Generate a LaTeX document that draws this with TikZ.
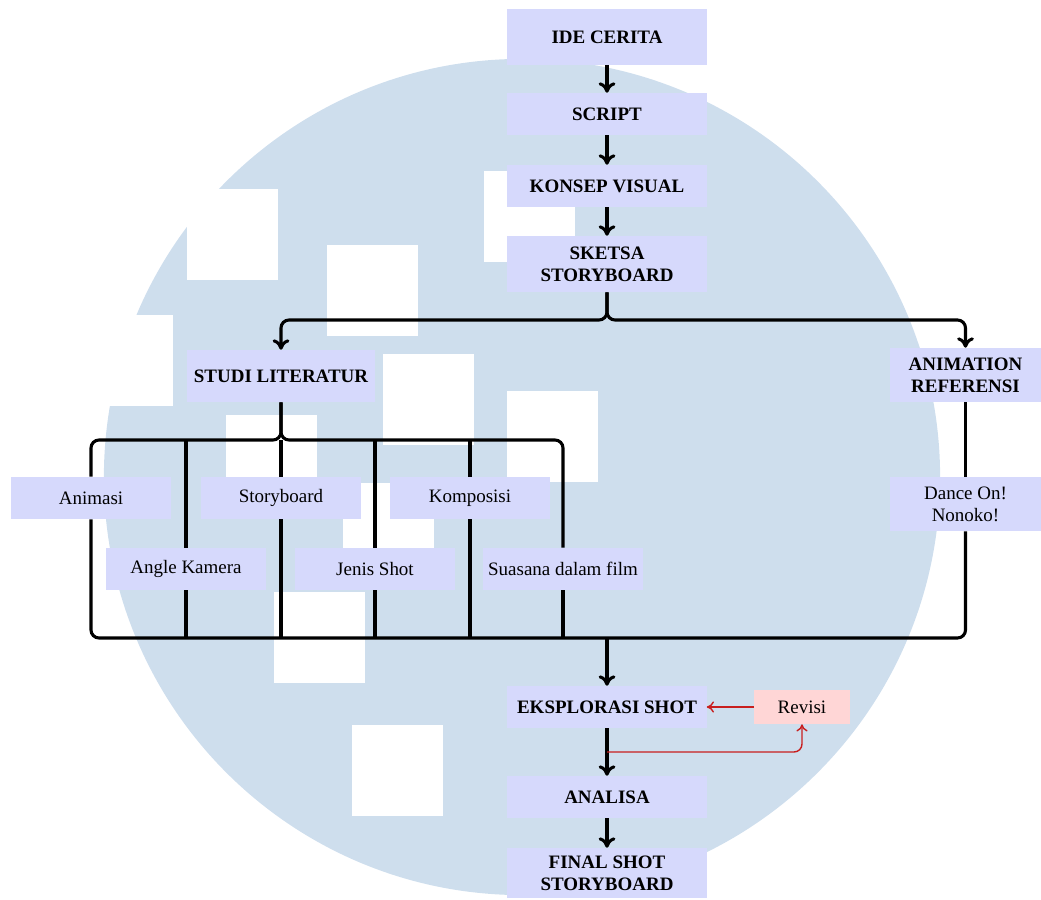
\documentclass[tikz,border=0pt]{standalone}
\usepackage{fontspec}
\setmainfont{Liberation Serif}
\usetikzlibrary{arrows.meta}

\definecolor{boxblue}{RGB}{214,217,252}
\definecolor{boxpink}{RGB}{255,214,214}
\definecolor{wmblue}{RGB}{206,222,237}
\definecolor{revred}{RGB}{200,30,30}

\begin{document}
\begin{tikzpicture}
  [x=0.025cm,y=-0.025cm,
   every node/.style={fill=boxblue,inner sep=0pt,align=center,font=\fontsize{13.5}{15.6}\selectfont},
   stage/.style={minimum width=4.975cm,minimum height=1.05cm,font=\fontsize{13.5}{15.6}\selectfont\bfseries},
   topic/.style={minimum width=4cm,minimum height=1.05cm},
   flow/.style={line width=2.2pt,-{To[length=2.6mm,width=4.2mm]}},
   link/.style={line width=2.2pt,rounded corners=0.2cm},
   back/.style={line width=1pt,draw=revred,-{To[length=1.8mm,width=2.8mm]}}]
  \useasboundingbox (0,0) rectangle (1041,900);
  % watermark
  \fill[wmblue] (522,477) circle[radius=10.45cm];
  \foreach \x/\y in {187/189,327/245,484/171,82/315,383/354,226/415,507/391,343/483,274/592,352/725}
    \fill[white] (\x,\y) rectangle ++(91,91);

  \node[stage,minimum height=1.375cm] (nide) at (607,37) {IDE CERITA};
  \node[stage] (nscript) at (607,114) {SCRIPT};
  \node[stage] (nkonsep) at (607,186) {KONSEP VISUAL};
  \node[stage,minimum height=1.4cm] (nsketsa) at (607,264) {SKETSA\\STORYBOARD};
  \node[stage,minimum width=4.675cm,minimum height=1.3cm] (nstudi) at (281,376) {STUDI LITERATUR};
  \node[stage,minimum width=3.775cm,minimum height=1.35cm] (nanim) at (965.5,375) {ANIMATION\\REFERENSI};
  \node[topic] (nanimasi) at (91,498) {Animasi};
  \node[topic] (nstoryboard) at (281,498) {Storyboard};
  \node[topic] (nkomposisi) at (470,498) {Komposisi};
  \node[topic] (nangle) at (186,569) {Angle Kamera};
  \node[topic] (njenis) at (375,569) {Jenis Shot};
  \node[topic] (nsuasana) at (563,569) {Suasana dalam film};
  \node[topic,minimum width=3.775cm,minimum height=1.35cm] (ndance) at (965.5,504) {Dance On!\\Nonoko!};
  \node[stage] (neksplorasi) at (607,707) {EKSPLORASI SHOT};
  \node[fill=boxpink,minimum width=2.375cm,minimum height=0.85cm] (nrevisi) at (802,707) {Revisi};
  \node[stage] (nanalisa) at (607,797) {ANALISA};
  \node[stage,minimum height=1.25cm] (nfinal) at (607,873) {FINAL SHOT\\STORYBOARD};

  \coordinate (csplit) at (607,320);
  \coordinate (cbranch) at (281,440);
  \coordinate (cmerge) at (607,638);
  \coordinate (crevisi) at (607,752);

  \draw[flow] (nide) -- (nscript);
  \draw[flow] (nscript) -- (nkonsep);
  \draw[flow] (nkonsep) -- (nsketsa);
  \draw[flow,rounded corners=0.2cm] (nsketsa.south) -- (csplit) -| (nstudi.north);
  \draw[flow,rounded corners=0.2cm] (nsketsa.south) -- (csplit) -| (nanim.north);
  % studi literatur branches
  \draw[link] (nstudi.south) -- (cbranch) -| (nanimasi.north);
  \draw[link] (nstudi.south) -- (cbranch) -| (nsuasana.north);
  \draw[link] (cbranch) -- (nstoryboard.north);
  \foreach \n in {nangle,njenis,nkomposisi}
    \draw[link] (\n.north) -- (\n.north |- cbranch);
  % merge
  \draw[link] (nanimasi.south) |- (cmerge) -| (ndance.south);
  \foreach \n in {nstoryboard,nkomposisi,nangle,njenis,nsuasana}
    \draw[link] (\n.south) -- (\n.south |- cmerge);
  \draw[link] (nanim) -- (ndance);
  \draw[flow] (cmerge) -- (neksplorasi);
  \draw[flow] (neksplorasi) -- (nanalisa);
  \draw[flow] (nanalisa) -- (nfinal);
  % revision loop
  \draw[back] (nrevisi) -- (neksplorasi);
  \draw[back,rounded corners=0.2cm] (crevisi) -| (nrevisi.south);
\end{tikzpicture}
\end{document}
